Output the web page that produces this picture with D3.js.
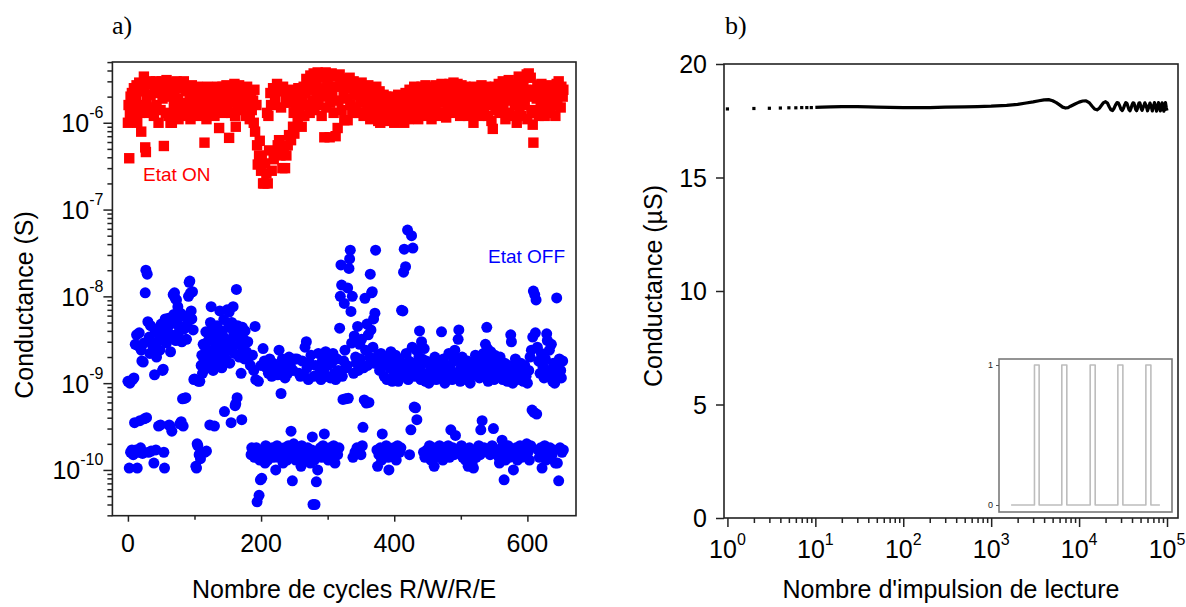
<!DOCTYPE html>
<html><head><meta charset="utf-8">
<script src="https://cdn.jsdelivr.net/npm/d3@7"></script>
<style>
body{margin:0;background:#fff;}
svg{display:block;font-family:"Liberation Sans",Arial,sans-serif;}
</style></head><body>
<svg id="c" width="1186" height="607"></svg>
<script>
// ---------- DATA ----------
// Panel a) : [cycle, conductance in µS] for ON state
const onPoints = [[0,1.0],[1,1.6],[2,0.39],[3,1.3],[4,2.0],[5,1.1],[6,2.2],[8,1.5],[9,2.5],[10,1.2],[12,1.9],[13,2.7],[14,1.0],[16,1.6],[17,2.9],[18,1.3],[20,0.79],[21,2.3],[22,1.4],[24,3.4],[25,2.6],[26,0.52],[27,0.46],[28,1.8],[30,2.8],[31,1.3],[33,3.0],[34,2.1],[36,1.5],[37,2.9],[39,1.2],[40,2.4],[42,3.0],[43,1.6],[45,2.2],[46,1.0],[48,2.7],[49,1.4],[51,3.0],[52,1.9],[54,0.54],[55,2.5],[57,1.3],[58,3.1],[60,2.0],[61,1.2],[63,2.6],[64,1.0],[66,1.0],[67,2.9],[69,1.6],[70,2.2],[72,1.3],[73,3.0],[75,1.9],[76,1.1],[78,2.5],[79,1.5],[81,2.8],[82,1.7],[84,3.0],[85,1.2],[87,2.3],[88,1.6],[90,2.6],[91,1.4],[93,2.1],[94,1.1],[96,2.7],[97,1.8],[99,2.4],[100,1.3],[102,2.0],[103,1.5],[105,2.6],[106,1.2],[108,2.3],[109,1.7],[111,2.5],[112,1.4],[114,2.2],[115,0.59],[117,1.9],[118,1.1],[120,2.6],[121,1.6],[123,2.2],[124,1.3],[126,2.5],[127,1.8],[129,2.4],[130,1.2],[132,2.1],[133,1.6],[135,2.6],[136,1.4],[137,0.87],[139,2.3],[140,1.7],[142,2.6],[143,1.3],[145,2.2],[146,1.9],[148,2.7],[149,1.5],[151,2.4],[152,0.67],[154,2.0],[155,1.3],[157,2.6],[158,1.7],[160,2.8],[161,1.2],[162,0.9],[164,2.4],[165,1.5],[167,2.7],[168,1.9],[170,2.3],[171,1.4],[173,2.5],[174,1.8],[176,2.1],[177,1.2],[179,2.6],[180,1.6],[182,2.2],[183,1.1],[185,2.0],[186,1.4],[188,1.8],[189,1.0],[190,2.4],[191,0.79],[193,1.6],[194,0.55],[195,0.33],[197,0.42],[198,0.62],[200,0.28],[201,0.4],[203,0.2],[205,0.2],[206,0.34],[208,0.26],[209,1.3],[210,0.2],[211,1.2],[212,0.48],[214,2.2],[215,1.6],[216,0.28],[218,2.5],[219,0.38],[221,1.9],[222,0.45],[224,2.8],[225,0.55],[227,0.63],[228,2.3],[229,0.42],[230,1.5],[232,0.3],[233,2.6],[234,0.5],[236,0.3],[237,1.8],[238,0.42],[240,0.55],[241,2.2],[242,0.72],[244,1.7],[245,0.63],[246,2.4],[248,0.9],[249,1.3],[250,0.75],[252,1.6],[253,2.1],[255,1.1],[256,2.5],[258,1.4],[259,2.0],[261,0.9],[262,1.7],[264,2.6],[265,1.2],[267,2.2],[268,3.2],[270,1.6],[271,2.8],[273,1.3],[274,3.5],[276,2.4],[277,1.8],[279,3.7],[280,1.4],[282,2.9],[283,2.1],[285,3.8],[286,1.6],[288,3.3],[289,2.5],[291,1.2],[292,3.6],[294,2.0],[295,0.68],[297,3.8],[298,1.5],[300,3.0],[301,2.4],[303,0.68],[304,1.7],[306,3.7],[307,2.2],[309,1.3],[310,3.4],[312,0.7],[313,2.6],[315,0.87],[316,1.8],[318,3.6],[319,2.9],[321,1.4],[322,3.2],[324,2.3],[325,1.07],[327,3.0],[328,1.9],[330,1.07],[331,2.7],[333,3.3],[334,1.6],[336,2.5],[337,1.3],[339,3.0],[340,2.1],[342,1.5],[343,2.8],[345,2.2],[346,1.3],[348,2.6],[349,1.7],[351,2.9],[352,2.0],[354,1.2],[355,2.6],[357,1.8],[358,2.3],[360,1.4],[361,2.7],[363,1.9],[364,1.1],[366,2.4],[367,1.6],[369,2.2],[370,1.3],[372,2.0],[373,2.6],[375,1.5],[376,1.05],[378,2.3],[379,1.0],[381,1.8],[382,1.3],[384,2.1],[385,1.6],[387,1.1],[388,2.0],[390,1.4],[391,1.8],[393,1.05],[394,1.6],[396,2.0],[397,1.2],[399,1.7],[400,1.0],[402,1.9],[403,1.3],[405,1.6],[406,2.1],[408,1.1],[409,1.5],[411,2.0],[412,1.25],[414,1.8],[415,1.0],[417,2.2],[418,1.4],[420,1.9],[421,1.1],[423,2.4],[424,1.6],[426,1.2],[427,2.2],[429,1.5],[430,2.6],[432,1.3],[433,1.9],[435,2.5],[436,1.1],[438,2.1],[439,1.6],[441,2.6],[442,1.3],[444,2.3],[445,1.7],[447,2.7],[448,1.2],[450,2.0],[451,2.5],[453,1.5],[454,2.2],[456,1.1],[457,2.6],[459,1.8],[460,2.4],[462,1.4],[463,2.7],[465,2.0],[466,1.2],[468,2.5],[469,1.7],[471,2.8],[472,1.3],[474,2.2],[475,1.9],[477,2.6],[478,1.15],[480,2.3],[481,1.6],[483,2.8],[484,1.4],[486,2.5],[487,1.9],[489,2.9],[490,1.3],[492,2.2],[493,1.7],[495,2.8],[496,1.5],[498,2.4],[499,1.2],[501,2.7],[502,1.8],[504,2.3],[505,1.4],[507,2.6],[508,1.6],[510,2.0],[511,1.2],[513,2.4],[514,1.7],[516,1.3],[517,2.1],[519,1.0],[520,2.6],[522,1.4],[523,2.2],[525,1.7],[526,2.5],[528,1.2],[529,1.9],[531,2.7],[532,1.5],[534,2.3],[535,1.3],[537,2.0],[538,2.6],[540,1.7],[541,1.2],[543,2.3],[544,1.6],[546,1.05],[548,0.85],[549,1.9],[551,2.6],[552,1.4],[554,2.2],[555,1.8],[557,2.8],[558,1.3],[560,2.4],[561,1.7],[563,3.0],[564,1.4],[566,2.2],[567,1.1],[569,2.6],[570,1.8],[572,3.1],[573,1.3],[575,2.4],[576,1.9],[578,1.2],[579,2.8],[581,1.6],[582,2.3],[584,1.0],[585,1.9],[587,3.4],[588,1.5],[590,2.6],[591,1.2],[593,2.1],[594,3.0],[596,1.6],[597,2.4],[599,3.6],[600,1.1],[602,3.7],[603,2.0],[605,3.3],[606,1.4],[608,0.95],[609,0.59],[611,2.4],[612,1.3],[614,1.9],[615,2.7],[617,1.2],[618,2.2],[620,1.6],[621,2.8],[623,1.4],[624,2.1],[626,1.2],[627,2.6],[629,1.8],[630,2.3],[632,1.5],[633,2.7],[635,1.3],[636,2.0],[638,2.6],[639,1.6],[641,2.2],[642,1.2],[644,2.8],[645,1.8],[647,3.0],[648,2.3],[650,1.5],[651,2.6],[653,2.0],[654,2.4]];

// Panel a) : [cycle, conductance in nS] for OFF state
const offPoints = [[0,1.05],[2,0.105],[3,1.0],[4,0.16],[6,0.17],[7,1.1],[8,0.15],[9,1.15],[10,0.35],[11,2.8],[12,0.17],[13,3.6],[14,0.105],[15,2.7],[16,0.16],[17,3.8],[18,0.37],[19,0.18],[20,2.4],[21,1.8],[22,0.155],[23,1.75],[24,2.9],[25,0.39],[26,11],[27,20],[28,0.4],[29,18],[30,5.1],[31,0.16],[32,3.4],[33,2.2],[34,4.6],[35,0.165],[36,3.0],[38,2.6],[39,0.12],[40,1.25],[41,3.9],[42,0.17],[43,2.0],[44,4.2],[46,0.32],[47,3.1],[48,2.4],[49,0.33],[50,4.8],[51,3.5],[52,1.4],[53,1.45],[54,0.16],[55,0.105],[56,5.5],[57,3.8],[58,2.9],[60,4.4],[61,5.6],[62,0.33],[63,0.32],[64,2.3],[65,3.6],[66,0.28],[67,4.9],[68,10.5],[69,6.2],[70,11],[71,9.5],[72,3.1],[73,9.1],[74,5.4],[75,7.6],[76,3.8],[77,4.5],[78,0.34],[79,6.4],[80,0.36],[81,3.0],[82,0.66],[83,0.32],[84,4.2],[85,0.67],[86,5.8],[87,0.68],[88,3.2],[89,4.8],[90,6.0],[91,10],[92,14.5],[93,15],[94,11],[95,6.8],[96,5.5],[97,11.3],[98,4.1],[99,1.1],[100,1.12],[102,0.11],[103,0.105],[104,0.2],[105,0.19],[106,1.05],[107,0.15],[108,1.05],[109,0.135],[110,1.6],[111,2.1],[112,1.3],[113,2.8],[114,1.9],[115,0.16],[116,2.6],[117,3.9],[118,0.165],[119,1.5],[120,2.2],[121,3.1],[122,1.7],[123,0.33],[124,5.0],[125,7.6],[126,2.4],[127,4.3],[128,1.4],[129,3.5],[130,0.32],[131,2.0],[132,3.0],[133,1.6],[134,4.6],[135,2.5],[136,3.3],[137,1.8],[138,6.8],[139,2.9],[140,4.0],[141,1.5],[142,3.6],[143,2.2],[144,5.4],[145,0.47],[146,2.7],[147,1.9],[148,3.2],[149,7.0],[150,2.4],[151,4.4],[152,6.6],[153,1.7],[154,3.0],[155,0.35],[156,5.0],[157,2.6],[158,7.6],[159,3.8],[160,2.2],[161,0.55],[162,0.58],[163,12],[164,0.68],[165,4.6],[166,3.4],[167,2.0],[168,2.8],[169,3.6],[170,1.3],[171,0.38],[172,4.4],[173,2.5],[174,3.2],[175,1.9],[176,4.0],[178,2.3],[180,3.0],[182,2.0],[184,1.6],[185,0.15],[186,0.18],[187,2.1],[188,0.16],[189,1.4],[190,0.14],[191,4.5],[192,1.1],[193,0.18],[194,0.043],[195,0.15],[196,1.05],[197,0.051],[198,0.13],[199,0.077],[200,1.6],[201,0.08],[202,0.17],[203,2.5],[204,0.14],[205,1.8],[206,0.12],[207,0.19],[208,1.5],[209,0.15],[210,0.13],[211,1.3],[212,0.165],[213,1.9],[214,0.15],[216,1.2],[217,0.18],[218,1.7],[219,0.14],[220,1.4],[221,0.16],[222,0.1],[223,1.6],[224,0.19],[225,1.25],[226,0.14],[227,2.4],[228,0.17],[229,1.35],[230,0.76],[231,0.15],[232,1.9],[233,0.12],[234,1.5],[235,0.18],[236,1.15],[237,0.16],[238,1.7],[239,0.13],[240,1.3],[241,0.19],[242,2.0],[243,0.15],[244,1.6],[245,0.28],[246,0.14],[247,0.075],[248,1.4],[249,0.2],[250,0.17],[251,1.9],[252,0.13],[253,0.16],[254,1.9],[255,0.18],[256,0.15],[257,1.3],[258,0.14],[259,1.2],[260,0.11],[261,0.19],[262,1.8],[263,0.16],[264,1.25],[265,0.17],[266,2.6],[267,0.13],[268,3.0],[269,1.5],[270,0.18],[271,1.1],[272,0.15],[273,1.7],[274,0.12],[275,2.1],[276,0.17],[277,0.24],[278,0.04],[279,1.2],[280,0.13],[281,0.04],[282,1.6],[283,0.073],[284,0.16],[285,0.1],[286,2.2],[287,0.15],[288,1.3],[289,0.18],[290,1.1],[291,0.14],[292,1.8],[293,0.19],[294,1.4],[295,0.26],[296,0.15],[297,2.3],[298,1.2],[299,0.17],[300,1.6],[301,0.13],[302,2.0],[303,0.18],[304,1.15],[305,0.16],[306,1.7],[307,0.14],[308,2.2],[309,0.19],[310,1.3],[311,0.12],[312,1.1],[313,0.17],[314,1.9],[315,0.15],[316,1.4],[317,0.18],[318,4.3],[319,10],[320,23],[321,13.5],[322,1.2],[323,0.65],[324,1.8],[325,8.3],[326,2.4],[327,0.66],[328,1.5],[329,1.6],[330,12.5],[331,0.67],[332,21],[333,27],[334,34],[335,6.7],[336,2.9],[337,10],[338,0.14],[339,1.3],[340,3.5],[341,0.16],[342,2.0],[343,1.7],[344,0.18],[345,4.5],[346,1.4],[347,0.17],[348,2.8],[349,1.9],[350,0.15],[351,3.2],[352,0.19],[353,0.31],[354,1.5],[355,0.64],[356,9.5],[357,2.4],[358,0.59],[359,4.8],[360,1.6],[361,3.6],[362,0.6],[363,2.0],[364,18],[365,4.1],[366,11],[367,11.3],[368,2.6],[369,5.5],[370,1.7],[371,6.4],[372,34],[373,1.9],[374,0.17],[375,0.11],[376,2.1],[377,0.15],[378,1.4],[379,0.18],[380,2.2],[381,0.13],[382,0.26],[383,1.6],[384,0.17],[385,1.2],[386,0.15],[387,1.8],[388,0.19],[389,1.1],[390,2.0],[391,0.14],[392,0.1],[393,1.5],[394,0.17],[395,2.3],[396,0.16],[397,1.05],[398,1.7],[399,0.18],[400,1.3],[401,0.15],[402,2.1],[403,0.13],[404,1.4],[405,0.19],[406,1.05],[407,1.9],[408,0.16],[409,1.2],[410,0.18],[411,6.9],[412,1.6],[413,6.8],[414,19],[415,35],[416,1.3],[417,22],[418,2.2],[419,1.5],[420,58],[421,1.1],[422,1.8],[423,0.15],[424,1.4],[425,0.29],[426,50],[427,2.6],[428,36],[429,1.7],[430,0.53],[431,1.2],[432,0.52],[433,2.4],[434,0.38],[435,1.6],[436,1.3],[437,2.0],[438,4.0],[439,1.5],[440,1.1],[441,3.0],[442,1.9],[443,1.25],[444,0.16],[445,2.5],[446,0.14],[447,1.05],[448,1.8],[449,0.17],[450,1.3],[451,0.15],[452,1.0],[453,0.19],[454,1.6],[455,0.13],[456,1.2],[457,0.16],[458,1.5],[459,0.18],[460,0.11],[461,2.0],[462,0.14],[463,1.1],[464,0.17],[465,1.4],[466,0.15],[467,1.7],[468,0.19],[469,1.25],[470,0.16],[471,3.9],[472,1.3],[473,0.13],[474,1.9],[475,0.18],[476,1.0],[477,0.15],[478,1.6],[479,0.17],[480,1.2],[481,0.19],[482,2.2],[483,0.14],[484,1.5],[485,0.29],[486,0.16],[487,1.1],[488,0.18],[489,1.8],[490,0.15],[491,2.4],[492,0.25],[493,1.3],[494,0.17],[495,1.9],[496,3.2],[497,4.1],[498,0.16],[499,1.05],[500,1.5],[501,0.19],[502,2.0],[503,0.14],[504,1.2],[505,0.17],[506,1.6],[507,0.13],[508,1.1],[509,0.15],[510,1.8],[511,0.11],[512,1.3],[513,0.18],[514,1.0],[515,0.16],[516,1.7],[517,0.12],[518,1.25],[519,0.105],[520,1.5],[521,0.17],[522,2.1],[523,0.14],[524,1.3],[525,0.16],[526,1.9],[527,0.19],[528,1.15],[529,0.15],[530,0.29],[531,1.6],[532,0.37],[533,1.2],[534,2.2],[535,0.18],[536,1.8],[537,2.8],[538,1.4],[539,4.4],[540,2.5],[541,1.05],[542,2.0],[543,1.6],[544,0.15],[545,2.3],[546,1.3],[547,0.19],[548,1.9],[549,0.3],[550,1.1],[551,2.1],[552,0.17],[553,1.5],[554,0.16],[555,1.8],[556,1.2],[557,0.14],[558,0.12],[559,2.0],[560,1.4],[561,0.18],[562,0.22],[563,1.1],[564,0.15],[565,0.077],[566,1.7],[567,0.13],[568,1.3],[569,0.16],[570,1.05],[571,0.19],[572,1.6],[573,0.14],[574,1.2],[575,3.6],[576,3.0],[577,0.17],[578,1.0],[579,0.1],[580,1.5],[581,0.15],[582,1.9],[583,0.18],[584,1.25],[585,0.13],[586,1.4],[587,0.16],[588,1.1],[589,0.19],[590,1.7],[591,0.14],[592,1.3],[593,0.17],[594,1.05],[595,0.15],[596,1.6],[597,0.18],[598,1.2],[599,0.2],[600,1.0],[601,0.16],[602,1.4],[603,0.13],[604,2.0],[605,0.19],[606,2.4],[607,0.49],[608,3.4],[609,11.5],[610,0.46],[611,10.5],[612,3.8],[613,9.1],[614,0.44],[615,2.6],[616,0.17],[617,1.8],[618,0.14],[619,1.3],[620,0.18],[621,2.2],[622,0.105],[623,1.6],[624,0.15],[625,1.15],[626,0.19],[627,1.9],[628,0.13],[629,3.7],[630,3.1],[631,0.16],[632,1.4],[633,2.4],[634,0.18],[635,1.2],[636,2.8],[637,0.15],[638,1.05],[639,1.7],[640,0.17],[641,1.0],[642,0.12],[643,1.5],[644,9.6],[645,0.12],[646,1.3],[647,0.075],[648,1.9],[649,0.18],[650,1.4],[651,1.15],[652,0.16],[653,1.8],[654,0.17]];

const leftXTicks = [0, 200, 400, 600];
const leftXMinor = [100, 300, 500];
const leftYExps = [-10, -9, -8, -7, -6];

// Panel b) : read pulse number vs conductance (µS)
const earlyPulses = [1,2,3,4,5,6,7,8,9];
const earlyG = [18.02,18.04,18.05,18.06,18.07,18.07,18.08,18.08,18.08];
const readPulses = [10,12,15,20,30,40,50,70,100,150,200,300,500,700,1000,1500,2000,2500,3000,3500,4000,4500,5000,5500,6000,6500,7000,7500,8000,9000,10000,11000,12000,13000,14000,15000,16000,17000,18000,19000,20000,21000,22000,23000,24000,25000,26000,27000,28000,29000,30000,31000,32000,33000,34000,35000,36000,37000,38000,39000,40000,41000,42000,43000,44000,45000,46000,47000,48000,49000,50000,51000,52000,54000,56000,58000,60000,62000,64000,66000,68000,70000,72000,74000,76000,78000,80000,82000,84000,86000,88000,90000,92000,94000,96000,98000,100000];
const readG = [18.09,18.1,18.11,18.12,18.12,18.11,18.1,18.09,18.08,18.08,18.08,18.1,18.11,18.12,18.14,18.18,18.22,18.28,18.33,18.38,18.42,18.43,18.38,18.3,18.2,18.1,18.06,18.08,18.14,18.24,18.32,18.37,18.38,18.3,18.15,18.02,17.98,18.05,18.18,18.3,18.34,18.28,18.12,17.98,17.95,18.05,18.2,18.3,18.28,18.15,18.0,17.95,18.05,18.2,18.3,18.27,18.12,17.98,17.94,18.05,18.2,18.29,18.28,18.15,18.0,17.94,18.02,18.18,18.28,18.29,18.18,18.02,17.96,18.12,18.29,18.16,17.94,18.1,18.28,18.15,17.93,18.12,18.3,18.14,17.92,18.1,18.3,18.12,17.93,18.12,18.29,18.1,17.92,18.15,18.3,18.08,17.95];
const rightYTicks = [0, 5, 10, 15, 20];
const rightXExps = [0, 1, 2, 3, 4, 5];

// Inset: square read-pulse waveform (arbitrary time, normalized level)
const insetTime  = [7,20.5,20.5,23.2,23.2,36.3,36.3,39.2,39.2,52.7,52.7,55.6,55.6,68.7,68.7,71.6,71.6,84.9,84.9,87.8,87.8,93];
const insetLevel = [0,0,1,1,0,0,1,1,0,0,1,1,0,0,1,1,0,0,1,1,0,0];
const insetYTicks = [0, 1];

// ---------- LAYOUT ----------
const svg = d3.select('#c');
const A = {l:112.4, r:576, t:62, b:515.7};
const B = {l:724, r:1178, t:64, b:518};
const axisColor = '#222';

const xA = d3.scaleLinear().domain([-23.3, 673]).range([A.l, A.r]);
const yA = d3.scaleLog().domain([Math.pow(10,-10.527), Math.pow(10,-5.30)]).range([A.b, A.t]);
const xB = d3.scaleLog().domain([Math.pow(10,-0.039), Math.pow(10,5.125)]).range([B.l, B.r]);
const yB = d3.scaleLinear().domain([0, 20]).range([B.b, B.t]);

function clean(g){
  g.select('.domain').remove();
  g.selectAll('text').remove();
  g.selectAll('line').attr('stroke', axisColor).attr('stroke-width', 1.5);
}

// ---- Panel a) ----
const gA = svg.append('g');
gA.selectAll('circle.off').data(offPoints).join('circle')
  .attr('cx', d => xA(d[0])).attr('cy', d => yA(d[1]*1e-9)).attr('r', 5.5)
  .attr('fill', '#0000ff');
const sq = 10.4;
gA.selectAll('rect.on').data(onPoints).join('rect')
  .attr('x', d => xA(d[0]) - sq/2).attr('y', d => yA(d[1]*1e-6) - sq/2)
  .attr('width', sq).attr('height', sq).attr('fill', '#ff0000');

const yMajA = leftYExps.map(e => Math.pow(10, e));
const yMinA = yA.ticks().filter(v => !yMajA.some(m => Math.abs(v - m)/m < 1e-6));
gA.append('g').attr('transform', `translate(${A.l},0)`).call(d3.axisLeft(yA).tickValues(yMinA).tickSize(5)).call(clean);
gA.append('g').attr('transform', `translate(${A.l},0)`).call(d3.axisLeft(yA).tickValues(yMajA).tickSize(9)).call(clean);
gA.append('g').attr('transform', `translate(0,${A.b})`).call(d3.axisBottom(xA).tickValues(leftXMinor).tickSize(4)).call(clean);
gA.append('g').attr('transform', `translate(0,${A.b})`).call(d3.axisBottom(xA).tickValues(leftXTicks).tickSize(6)).call(clean);

gA.append('rect').attr('x', A.l).attr('y', A.t).attr('width', A.r - A.l).attr('height', A.b - A.t)
  .attr('fill', 'none').attr('stroke', axisColor).attr('stroke-width', 1.6);

// y tick labels with superscripts
leftYExps.forEach(e => {
  const t = gA.append('text').attr('x', A.l - 9).attr('y', yA(Math.pow(10, e)) + 9.5)
    .attr('text-anchor', 'end').attr('font-size', 25).attr('fill', '#000');
  t.append('tspan').text('10');
  t.append('tspan').attr('font-size', 16).attr('dy', -14).text(String(e));
});
leftXTicks.forEach(v => {
  gA.append('text').attr('x', xA(v)).attr('y', 552).attr('text-anchor', 'middle')
    .attr('font-size', 25).text(v);
});
gA.append('text').attr('x', (A.l + A.r)/2).attr('y', 598).attr('text-anchor', 'middle')
  .attr('font-size', 25).text('Nombre de cycles R/W/R/E');
gA.append('text').attr('transform', 'translate(33,305) rotate(-90)').attr('text-anchor', 'middle')
  .attr('font-size', 25).text('Conductance (S)');
gA.append('text').attr('x', 143).attr('y', 181).attr('font-size', 19).attr('fill', '#ff0000').text('Etat ON');
gA.append('text').attr('x', 488).attr('y', 263).attr('font-size', 19).attr('fill', '#0000ff').text('Etat OFF');
gA.append('text').attr('x', 112).attr('y', 34).attr('font-family', '"Liberation Serif","Times New Roman",serif')
  .attr('font-size', 26).text('a)');

// ---- Panel b) ----
const gB = svg.append('g');
const xMajB = rightXExps.map(e => Math.pow(10, e));
const xMinB = xB.ticks().filter(v => !xMajB.some(m => Math.abs(v - m)/m < 1e-6));
gB.append('g').attr('transform', `translate(0,${B.b})`).call(d3.axisBottom(xB).tickValues(xMinB).tickSize(5)).call(clean);
gB.append('g').attr('transform', `translate(0,${B.b})`).call(d3.axisBottom(xB).tickValues(xMajB).tickSize(9)).call(clean);
gB.append('g').attr('transform', `translate(${B.l},0)`).call(d3.axisLeft(yB).tickValues(rightYTicks).tickSize(8)).call(clean);

const line = d3.line().x(d => xB(d[0])).y(d => yB(d[1]));
gB.append('path').datum(readPulses.map((p, i) => [p, readG[i]]))
  .attr('d', line).attr('fill', 'none').attr('stroke', '#000').attr('stroke-width', 3.2)
  .attr('stroke-linejoin', 'round');
gB.selectAll('rect.dot').data(earlyPulses.map((p, i) => [p, earlyG[i]])).join('rect')
  .attr('x', d => xB(d[0]) - 1.6).attr('y', d => yB(d[1]) - 1.6).attr('width', 3.2).attr('height', 3.2)
  .attr('fill', '#000');

gB.append('rect').attr('x', B.l).attr('y', B.t).attr('width', B.r - B.l).attr('height', B.b - B.t)
  .attr('fill', 'none').attr('stroke', axisColor).attr('stroke-width', 1.6);

rightYTicks.forEach(v => {
  gB.append('text').attr('x', B.l - 17).attr('y', yB(v) + 9).attr('text-anchor', 'end')
    .attr('font-size', 25).text(v);
});
rightXExps.forEach(e => {
  const t = gB.append('text').attr('x', xB(Math.pow(10, e))).attr('y', 558)
    .attr('text-anchor', 'middle').attr('font-size', 25);
  t.append('tspan').text('10');
  t.append('tspan').attr('font-size', 16).attr('dy', -13).text(String(e));
});
gB.append('text').attr('x', (B.l + B.r)/2).attr('y', 598).attr('text-anchor', 'middle')
  .attr('font-size', 25).text("Nombre d'impulsion de lecture");
gB.append('text').attr('transform', 'translate(662,286) rotate(-90)').attr('text-anchor', 'middle')
  .attr('font-size', 25).text('Conductance (µS)');
gB.append('text').attr('x', 725).attr('y', 34).attr('font-family', '"Liberation Serif","Times New Roman",serif')
  .attr('font-size', 26).text('b)');

// ---- Inset ----
const I = {l:999, r:1172, t:359, b:512};
const xI = d3.scaleLinear().domain([0, 100]).range([I.l, I.r]);
const yI = d3.scaleLinear().domain([0, 1]).range([505, 365]);
const gI = svg.append('g');
gI.append('rect').attr('x', I.l).attr('y', I.t).attr('width', I.r - I.l).attr('height', I.b - I.t)
  .attr('fill', '#fff').attr('stroke', '#7a7a7a').attr('stroke-width', 1.6);
gI.append('g').attr('transform', `translate(${I.l},0)`)
  .call(d3.axisLeft(yI).tickValues(insetYTicks).tickSize(3).tickFormat(d3.format('d')))
  .call(g => { g.select('.domain').remove(); g.selectAll('line').attr('stroke', '#555');
               g.selectAll('text').attr('font-size', 9).attr('fill', '#222').attr('font-family', '"Liberation Sans",Arial,sans-serif'); });
gI.append('path').datum(insetTime.map((t, i) => [t, insetLevel[i]]))
  .attr('d', d3.line().x(d => xI(d[0])).y(d => yI(d[1])))
  .attr('fill', 'none').attr('stroke', '#bdbdbd').attr('stroke-width', 1.6).attr('stroke-linejoin', 'round');
</script>
</body></html>
